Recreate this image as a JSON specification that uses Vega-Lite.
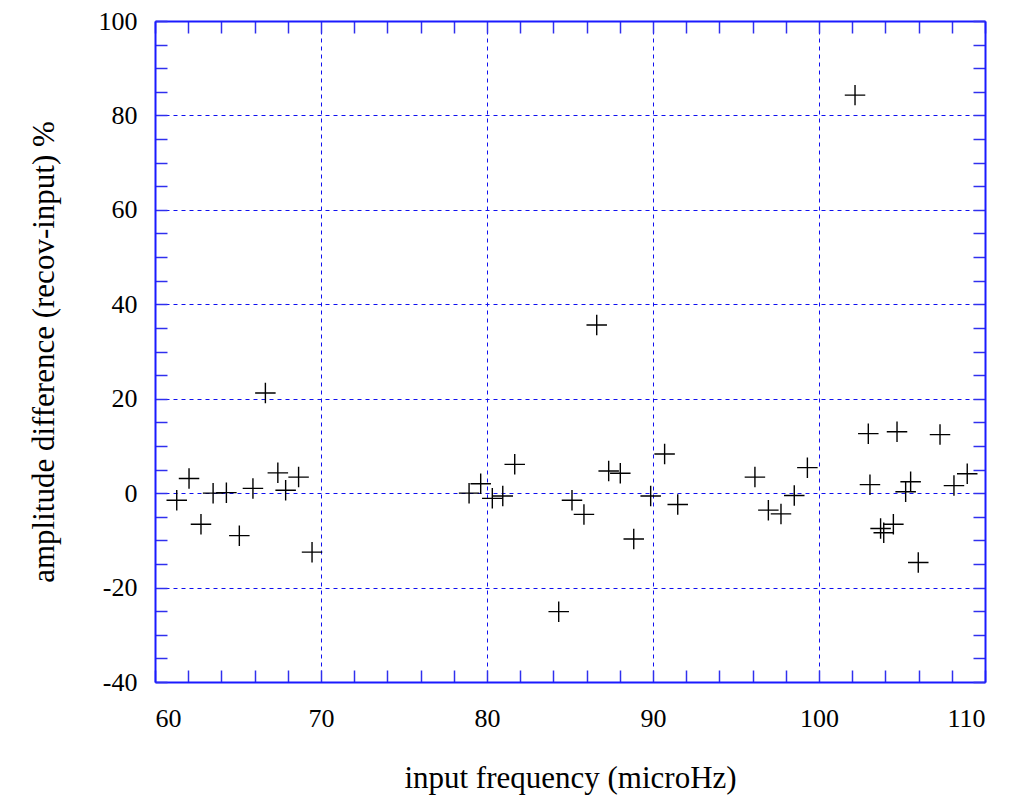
{
  "$schema": "https://vega.github.io/schema/vega-lite/v6.json",
  "width": 830,
  "height": 661,
  "autosize": {"type": "none"},
  "padding": {"left": 155, "top": 21, "right": 28, "bottom": 118},
  "background": "white",
  "config": {
    "view": {"stroke": null},
    "font": "Liberation Serif",
    "axis": {
      "labelFont": "Liberation Serif",
      "titleFont": "Liberation Serif",
      "labelFontSize": 26,
      "labelColor": "black",
      "titleFontSize": 31,
      "titleFontWeight": "normal",
      "titleColor": "black",
      "domainColor": "#1a1aff",
      "domainWidth": 2,
      "tickColor": "#3030ee",
      "tickWidth": 1.5,
      "gridColor": "#1010f0",
      "gridDash": [4, 4],
      "gridWidth": 1,
      "gridOpacity": 1
    }
  },
  "data": {
    "values": [
      {"f": 61.31, "d": -1.5}, {"f": 62.05, "d": 3.1}, {"f": 62.77, "d": -6.6}, {"f": 63.5, "d": 0},
      {"f": 64.3, "d": 0.1}, {"f": 65.08, "d": -9.0}, {"f": 65.9, "d": 1.0}, {"f": 66.65, "d": 21.2},
      {"f": 67.4, "d": 4.3}, {"f": 67.87, "d": 0.6}, {"f": 68.65, "d": 3.4}, {"f": 69.46, "d": -12.5},
      {"f": 78.92, "d": 0}, {"f": 79.62, "d": 2.0}, {"f": 80.32, "d": -1.1}, {"f": 80.95, "d": -0.6},
      {"f": 81.67, "d": 6.1}, {"f": 84.32, "d": -25.1}, {"f": 85.12, "d": -1.5}, {"f": 85.84, "d": -4.5},
      {"f": 86.61, "d": 35.6}, {"f": 87.33, "d": 4.7}, {"f": 88.03, "d": 4.2}, {"f": 88.84, "d": -9.7},
      {"f": 89.86, "d": -0.6}, {"f": 90.7, "d": 8.3}, {"f": 91.49, "d": -2.4},
      {"f": 96.14, "d": 3.4}, {"f": 96.95, "d": -3.6}, {"f": 97.71, "d": -4.4}, {"f": 98.51, "d": -0.5},
      {"f": 99.3, "d": 5.4}, {"f": 102.17, "d": 84.3}, {"f": 102.97, "d": 12.6}, {"f": 103.07, "d": 1.8},
      {"f": 103.71, "d": -7.5}, {"f": 103.9, "d": -8.4}, {"f": 104.48, "d": -6.6}, {"f": 104.7, "d": 13.0},
      {"f": 105.22, "d": 0.3}, {"f": 105.52, "d": 2.4}, {"f": 105.98, "d": -14.7}, {"f": 107.29, "d": 12.4},
      {"f": 108.13, "d": 1.6}, {"f": 108.93, "d": 4.1}
    ]
  },
  "resolve": {"axis": {"x": "independent", "y": "independent"}},
  "layer": [
    {
      "mark": {"type": "point", "opacity": 0},
      "encoding": {
        "x": {"field": "f", "type": "quantitative", "scale": {"domain": [60, 110], "nice": false, "zero": false},
          "axis": {"orient": "top", "title": null, "labels": false, "ticks": false, "domain": false, "grid": true, "values": [70, 80, 90, 100]}},
        "y": {"field": "d", "type": "quantitative", "scale": {"domain": [-40, 100], "nice": false, "zero": false},
          "axis": {"orient": "right", "title": null, "labels": false, "ticks": false, "domain": false, "grid": true, "values": [-20, 0, 20, 40, 60, 80]}}
      }
    },
    {
      "mark": {"type": "point", "opacity": 0},
      "encoding": {
        "x": {"field": "f", "type": "quantitative",
          "axis": {"orient": "top", "title": null, "labels": false, "grid": false, "tickSize": -12,
            "values": [60, 62, 64, 66, 68, 70, 72, 74, 76, 78, 80, 82, 84, 86, 88, 90, 92, 94, 96, 98, 100, 102, 104, 106, 108, 110]}},
        "y": {"field": "d", "type": "quantitative",
          "axis": {"orient": "right", "title": null, "labels": false, "grid": false, "tickSize": -12,
            "values": [-40, -35, -30, -25, -20, -15, -10, -5, 0, 5, 10, 15, 20, 25, 30, 35, 40, 45, 50, 55, 60, 65, 70, 75, 80, 85, 90, 95, 100]}}
      }
    },
    {
      "mark": {"type": "point", "shape": "M-1,0L1,0M0,-1L0,1", "filled": false, "stroke": "black", "strokeWidth": 1.4, "size": 420, "opacity": 1},
      "encoding": {
        "x": {"field": "f", "type": "quantitative",
          "axis": {"orient": "bottom", "title": "input frequency (microHz)", "grid": false, "tickSize": -12, "labelPadding": 35, "titlePadding": 32,
            "labelExpr": "datum.value % 10 == 0 ? toString(datum.value) : ''",
            "values": [60, 62, 64, 66, 68, 70, 72, 74, 76, 78, 80, 82, 84, 86, 88, 90, 92, 94, 96, 98, 100, 102, 104, 106, 108, 110]}},
        "y": {"field": "d", "type": "quantitative",
          "axis": {"orient": "left", "title": "amplitude difference (recov-input) %", "grid": false, "tickSize": -12, "labelPadding": 30, "titlePadding": 38,
            "labelExpr": "datum.value % 20 == 0 ? toString(datum.value) : ''",
            "values": [-40, -35, -30, -25, -20, -15, -10, -5, 0, 5, 10, 15, 20, 25, 30, 35, 40, 45, 50, 55, 60, 65, 70, 75, 80, 85, 90, 95, 100]}}
      }
    }
  ]
}
